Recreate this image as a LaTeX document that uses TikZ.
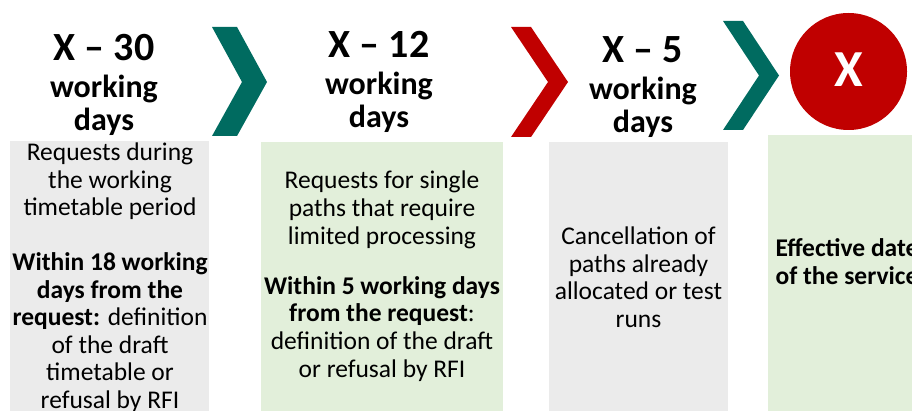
\documentclass[tikz,border=0pt]{standalone}
\usepackage{fontspec}
\setmainfont{Carlito}
\usepackage{xcolor}
\definecolor{chevteal}{RGB}{0,107,96}
\definecolor{chevred}{RGB}{192,0,0}
\definecolor{boxgray}{RGB}{235,235,235}
\definecolor{boxgreen}{RGB}{226,239,218}
\tikzset{
  head/.style={anchor=base, align=center, inner sep=0pt, font=\bfseries\fontsize{32}{33}\selectfont},
  body/.style={anchor=base, align=center, inner sep=0pt, font=\fontsize{25.5}{27.5}\selectfont},
}
\newcommand{\bigX}[1]{{\fontsize{40}{40}\selectfont X -- #1}}

\begin{document}
\begin{tikzpicture}[x=1pt, y=-1pt]
  	\useasboundingbox (0,0) rectangle (912,411);
  	\clip (0,0) rectangle (912,411);
  	% boxes
  	\fill[boxgray] (10,141) rectangle (209,420);
  	\fill[boxgreen] (261,142) rectangle (503,420);
  	\fill[boxgray] (549,142) rectangle (728,420);
  	\fill[boxgreen] (768,135) rectangle (935,420);
  	% chevrons
  	\fill[chevteal] (212,27) -- (237,27) -- (267,82) -- (237,136) -- (212,136) -- (242,82) -- cycle;
  	\fill[chevred] (511,27) -- (531,27) -- (568,82) -- (531,137) -- (511,137) -- (548,82) -- cycle;
  	\fill[chevteal] (723,21) -- (743,21) -- (779,75.5) -- (743,130) -- (723,130) -- (759,75.5) -- cycle;
  	\fill[chevred] (848.5,71.5) circle (58.5);
  	% headers (anchored at the baseline of the last line)
  	\node[head] (h30) at (104,131) {\bigX{30}\\[4pt] working\\days};
  	\node[head] (h12) at (379,128) {\bigX{12}\\[4pt] working\\days};
  	\node[head] (h5) at (643,133) {\bigX{5}\\[4pt] working\\days};
  	\node[anchor=base, inner sep=0pt, text=white, font=\bfseries\fontsize{52}{52}\selectfont] (hx) at (848.5,87) {X};
  	% texts
  	\node[body] (t30) at (110,408) {Requests during\\the working\\timetable period\\[27.5pt]
  	  \textbf{Within 18 working}\\\textbf{days from the}\\\textbf{request:} definition\\of the draft\\timetable or\\refusal by RFI};
  	\node[body] (t12) at (382,377) {Requests for single\\paths that require\\limited processing\\[23pt]
  	  \textbf{Within 5 working days}\\\textbf{from the request}:\\definition of the draft\\or refusal by RFI};
  	\node[body] (t5) at (638.5,327) {Cancellation of\\paths already\\allocated or test\\runs};
  	\node[body, font=\bfseries\fontsize{25.5}{28}\selectfont] (tx) at (847,285) {Effective date\\of the service};
\end{tikzpicture}
\end{document}
